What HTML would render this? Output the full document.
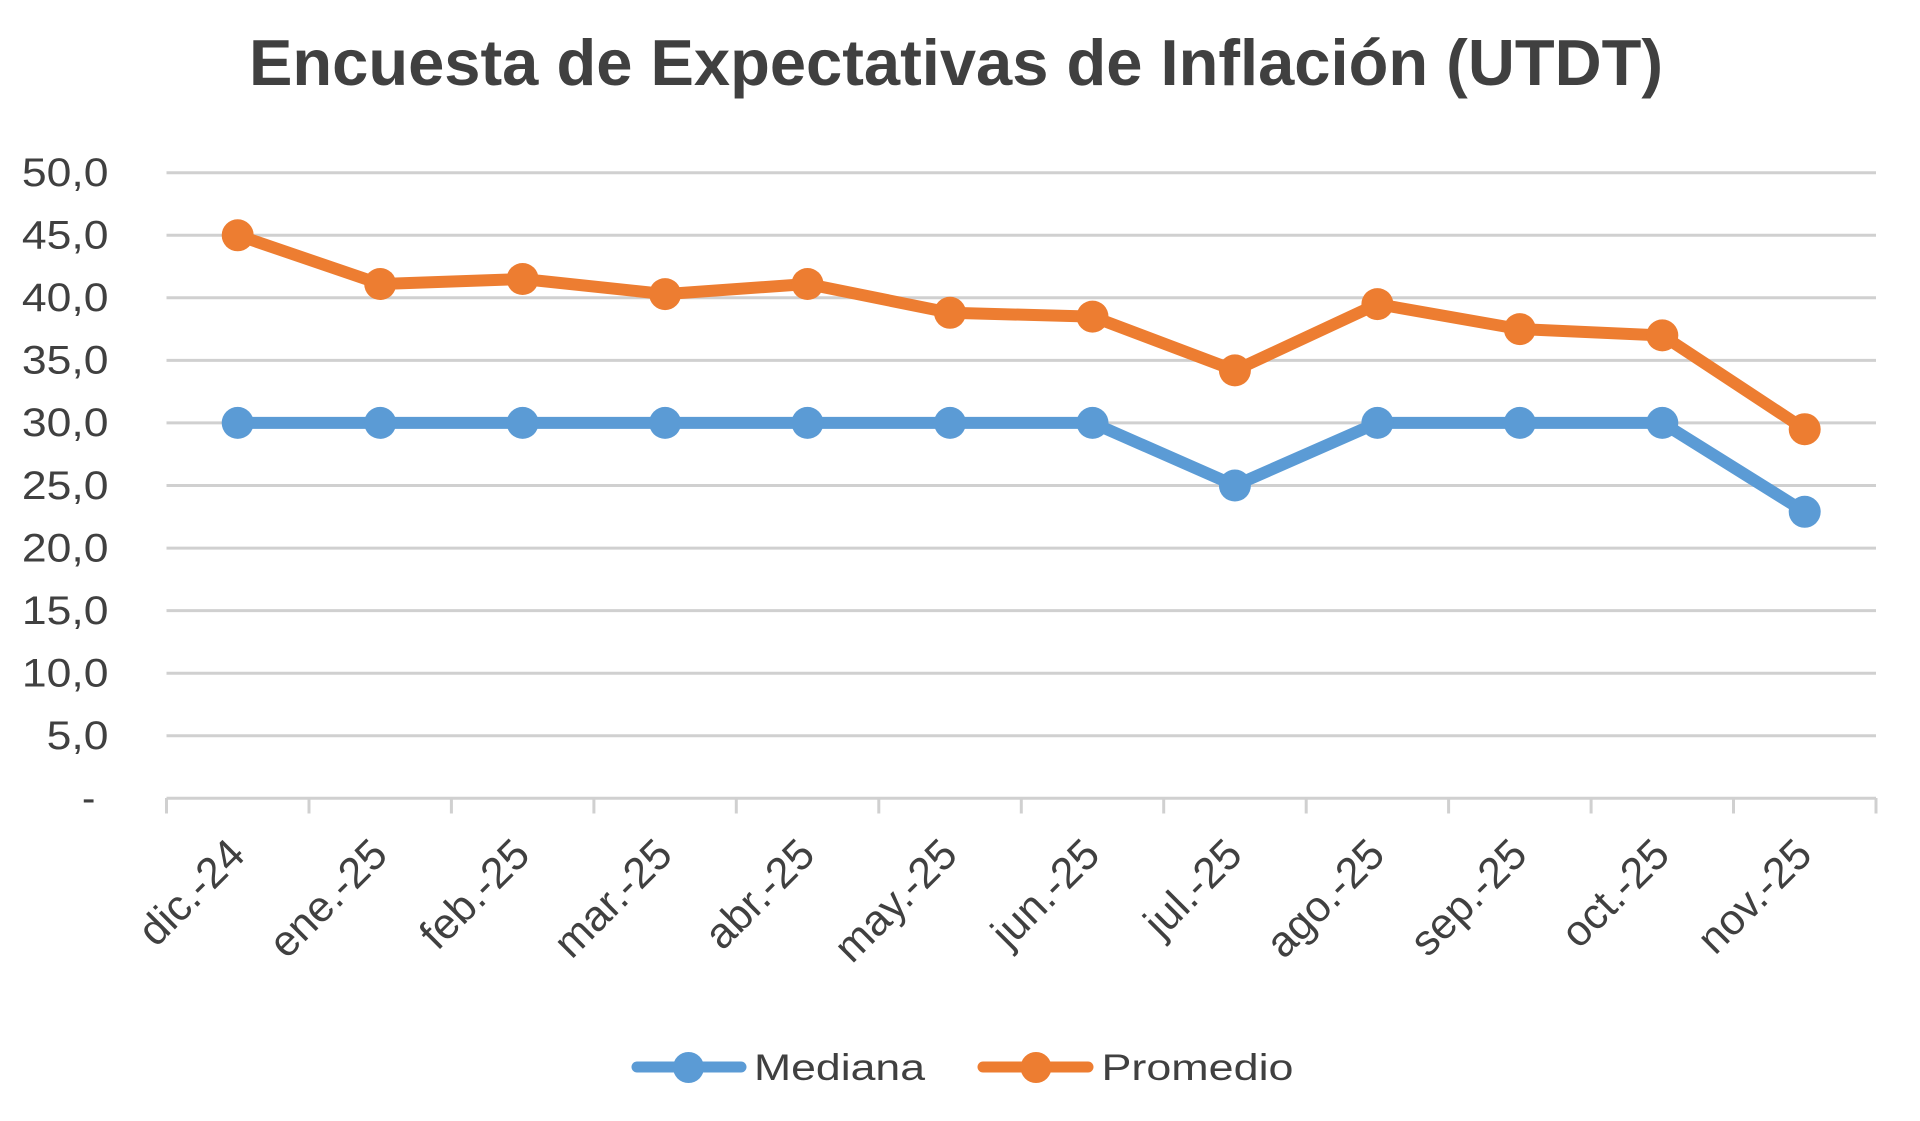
<!DOCTYPE html>
<html>
<head>
<meta charset="utf-8">
<style>
  html, body { margin:0; padding:0; background:#ffffff; }
  svg { display:block; }
  text { font-family: "Liberation Sans", "DejaVu Sans", sans-serif; fill:#404040; }
</style>
</head>
<body>
<svg width="1920" height="1121" viewBox="0 0 1920 1121" xmlns="http://www.w3.org/2000/svg">
  <rect x="0" y="0" width="1920" height="1121" fill="#ffffff"/>

  <!-- Title -->
  <text x="249" y="85" font-size="65" font-weight="bold" textLength="1414" lengthAdjust="spacingAndGlyphs" fill="#404040">Encuesta de Expectativas de Inflación (UTDT)</text>

  <!-- Gridlines -->
  <g stroke="#D0D0D0" stroke-width="3">
    <line x1="166.5" y1="172.7" x2="1876" y2="172.7"/>
    <line x1="166.5" y1="235.3" x2="1876" y2="235.3"/>
    <line x1="166.5" y1="297.8" x2="1876" y2="297.8"/>
    <line x1="166.5" y1="360.4" x2="1876" y2="360.4"/>
    <line x1="166.5" y1="422.9" x2="1876" y2="422.9"/>
    <line x1="166.5" y1="485.5" x2="1876" y2="485.5"/>
    <line x1="166.5" y1="548.1" x2="1876" y2="548.1"/>
    <line x1="166.5" y1="610.6" x2="1876" y2="610.6"/>
    <line x1="166.5" y1="673.2" x2="1876" y2="673.2"/>
    <line x1="166.5" y1="735.7" x2="1876" y2="735.7"/>
    <line x1="166.5" y1="798.3" x2="1876" y2="798.3"/>
  </g>
  <!-- Ticks -->
  <g stroke="#D0D0D0" stroke-width="3">
    <line x1="166.5" y1="798" x2="166.5" y2="813.5"/>
    <line x1="309.0" y1="798" x2="309.0" y2="813.5"/>
    <line x1="451.4" y1="798" x2="451.4" y2="813.5"/>
    <line x1="593.9" y1="798" x2="593.9" y2="813.5"/>
    <line x1="736.3" y1="798" x2="736.3" y2="813.5"/>
    <line x1="878.8" y1="798" x2="878.8" y2="813.5"/>
    <line x1="1021.3" y1="798" x2="1021.3" y2="813.5"/>
    <line x1="1163.7" y1="798" x2="1163.7" y2="813.5"/>
    <line x1="1306.2" y1="798" x2="1306.2" y2="813.5"/>
    <line x1="1448.6" y1="798" x2="1448.6" y2="813.5"/>
    <line x1="1591.1" y1="798" x2="1591.1" y2="813.5"/>
    <line x1="1733.5" y1="798" x2="1733.5" y2="813.5"/>
    <line x1="1876.0" y1="798" x2="1876.0" y2="813.5"/>
  </g>

  <!-- Y labels -->
  <g font-size="40" text-anchor="end">
    <text x="108.5" y="186.0" textLength="86.6" lengthAdjust="spacingAndGlyphs">50,0</text>
    <text x="108.5" y="248.6" textLength="86.6" lengthAdjust="spacingAndGlyphs">45,0</text>
    <text x="108.5" y="311.1" textLength="86.6" lengthAdjust="spacingAndGlyphs">40,0</text>
    <text x="108.5" y="373.7" textLength="86.6" lengthAdjust="spacingAndGlyphs">35,0</text>
    <text x="108.5" y="436.2" textLength="86.6" lengthAdjust="spacingAndGlyphs">30,0</text>
    <text x="108.5" y="498.8" textLength="86.6" lengthAdjust="spacingAndGlyphs">25,0</text>
    <text x="108.5" y="561.4" textLength="86.6" lengthAdjust="spacingAndGlyphs">20,0</text>
    <text x="108.5" y="623.9" textLength="86.6" lengthAdjust="spacingAndGlyphs">15,0</text>
    <text x="108.5" y="686.5" textLength="86.6" lengthAdjust="spacingAndGlyphs">10,0</text>
    <text x="108.5" y="749.0" textLength="61.8" lengthAdjust="spacingAndGlyphs">5,0</text>
  </g>
  <text x="82" y="811.6" font-size="40">-</text>

  <!-- X labels -->
  <g font-size="43" text-anchor="end">
    <text transform="translate(247.2,857) rotate(-45)">dic.-24</text>
    <text transform="translate(389.7,857) rotate(-45)">ene.-25</text>
    <text transform="translate(532.1,857) rotate(-45)">feb.-25</text>
    <text transform="translate(674.6,857) rotate(-45)">mar.-25</text>
    <text transform="translate(817.0,857) rotate(-45)">abr.-25</text>
    <text transform="translate(959.5,857) rotate(-45)">may.-25</text>
    <text transform="translate(1102.0,857) rotate(-45)">jun.-25</text>
    <text transform="translate(1244.4,857) rotate(-45)">jul.-25</text>
    <text transform="translate(1386.9,857) rotate(-45)">ago.-25</text>
    <text transform="translate(1529.3,857) rotate(-45)">sep.-25</text>
    <text transform="translate(1671.8,857) rotate(-45)">oct.-25</text>
    <text transform="translate(1814.2,857) rotate(-45)">nov.-25</text>
  </g>

  <!-- Series: Promedio (orange) -->
  <polyline fill="none" stroke="#ED7D31" stroke-width="12" stroke-linejoin="round" stroke-linecap="round"
    points="237.7,235.3 380.2,284.0 522.6,279.0 665.1,294.1 807.5,284.0 950.0,312.8 1092.5,316.6 1234.9,370.4 1377.4,304.1 1519.8,329.1 1662.3,335.4 1804.7,429.2"/>
  <g fill="#ED7D31">
    <circle cx="237.7" cy="235.3" r="16"/>
    <circle cx="380.2" cy="284.0" r="16"/>
    <circle cx="522.6" cy="279.0" r="16"/>
    <circle cx="665.1" cy="294.1" r="16"/>
    <circle cx="807.5" cy="284.0" r="16"/>
    <circle cx="950.0" cy="312.8" r="16"/>
    <circle cx="1092.5" cy="316.6" r="16"/>
    <circle cx="1234.9" cy="370.4" r="16"/>
    <circle cx="1377.4" cy="304.1" r="16"/>
    <circle cx="1519.8" cy="329.1" r="16"/>
    <circle cx="1662.3" cy="335.4" r="16"/>
    <circle cx="1804.7" cy="429.2" r="16"/>
  </g>

  <!-- Series: Mediana (blue) -->
  <polyline fill="none" stroke="#5B9BD5" stroke-width="12" stroke-linejoin="round" stroke-linecap="round"
    points="237.7,422.9 380.2,422.9 522.6,422.9 665.1,422.9 807.5,422.9 950.0,422.9 1092.5,422.9 1234.9,485.5 1377.4,422.9 1519.8,422.9 1662.3,422.9 1804.7,511.8"/>
  <g fill="#5B9BD5">
    <circle cx="237.7" cy="422.9" r="16"/>
    <circle cx="380.2" cy="422.9" r="16"/>
    <circle cx="522.6" cy="422.9" r="16"/>
    <circle cx="665.1" cy="422.9" r="16"/>
    <circle cx="807.5" cy="422.9" r="16"/>
    <circle cx="950.0" cy="422.9" r="16"/>
    <circle cx="1092.5" cy="422.9" r="16"/>
    <circle cx="1234.9" cy="485.5" r="16"/>
    <circle cx="1377.4" cy="422.9" r="16"/>
    <circle cx="1519.8" cy="422.9" r="16"/>
    <circle cx="1662.3" cy="422.9" r="16"/>
    <circle cx="1804.7" cy="511.8" r="16"/>
  </g>

  <!-- Legend -->
  <line x1="637" y1="1067" x2="741" y2="1067" stroke="#5B9BD5" stroke-width="11" stroke-linecap="round"/>
  <circle cx="688.5" cy="1067.5" r="15.5" fill="#5B9BD5"/>
  <text x="754" y="1080" font-size="37" textLength="171" lengthAdjust="spacingAndGlyphs">Mediana</text>

  <line x1="983" y1="1067" x2="1088" y2="1067" stroke="#ED7D31" stroke-width="11" stroke-linecap="round"/>
  <circle cx="1036" cy="1067.5" r="15.5" fill="#ED7D31"/>
  <text x="1101.5" y="1080" font-size="37" textLength="192" lengthAdjust="spacingAndGlyphs">Promedio</text>
</svg>
</body>
</html>
